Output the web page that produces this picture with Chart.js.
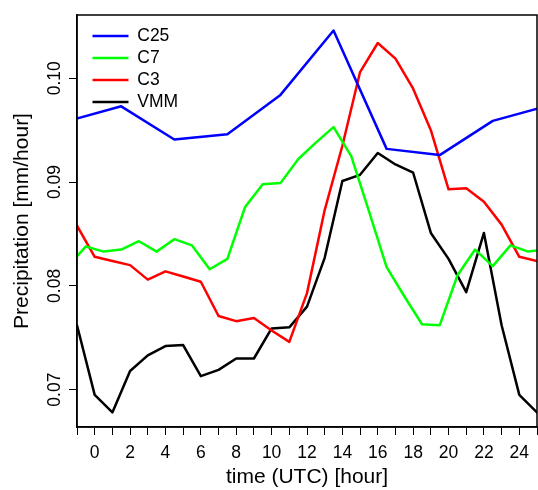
<!DOCTYPE html>
<html>
<head>
<meta charset="utf-8">
<script src="https://cdn.jsdelivr.net/npm/chart.js@4"></script>
<style>
  html, body { margin: 0; padding: 0; background: #fff; }
  canvas { display: block; }
</style>
</head>
<body>
<canvas id="chart" width="538" height="490"></canvas>
<script>
// Mean diurnal cycle of precipitation, by model configuration (hours in UTC).
// C25 is stored every 3 h, C7 hourly at half hours, C3 and VMM hourly on the hour;
// the series run slightly past both ends of the day so the lines reach the frame.
const c25Hours  = [-1.5, 1.5, 4.5, 7.5, 10.5, 13.5, 16.5, 19.5, 22.5, 25.5];
const c25Values = [0.0959, 0.0973, 0.0941, 0.0946, 0.0984, 0.1046, 0.0932, 0.0926, 0.0959, 0.0973];

const c7Hours  = [-1.5, -0.5, 0.5, 1.5, 2.5, 3.5, 4.5, 5.5, 6.5, 7.5, 8.5, 9.5, 10.5, 11.5,
                  12.5, 13.5, 14.5, 15.5, 16.5, 17.5, 18.5, 19.5, 20.5, 21.5, 22.5, 23.5, 24.5, 25.5];
const c7Values = [0.0819, 0.0838, 0.0833, 0.0835, 0.0843, 0.0833, 0.0845, 0.0839, 0.0816, 0.0826,
                  0.0876, 0.0898, 0.0899, 0.0922, 0.0938, 0.0953, 0.0925, 0.0872, 0.0818, 0.0790,
                  0.0763, 0.0762, 0.0810, 0.0835, 0.0819, 0.0839, 0.0833, 0.0835];

const hourlyHours = [-1, 0, 1, 2, 3, 4, 5, 6, 7, 8, 9, 10, 11, 12, 13,
                     14, 15, 16, 17, 18, 19, 20, 21, 22, 23, 24, 25];
const c3Values  = [0.0858, 0.0828, 0.0824, 0.0820, 0.0806, 0.0814, 0.0809, 0.0804, 0.0771, 0.0766,
                   0.0769, 0.0757, 0.0746, 0.0793, 0.0873, 0.0935, 0.1006, 0.1034, 0.1019, 0.0990,
                   0.0950, 0.0893, 0.0894, 0.0881, 0.0859, 0.0828, 0.0824];
const vmmValues = [0.0762, 0.0695, 0.0678, 0.0718, 0.0733, 0.0742, 0.0743, 0.0713, 0.0719, 0.0730,
                   0.0730, 0.0759, 0.0760, 0.0780, 0.0827, 0.0901, 0.0907, 0.0928, 0.0917, 0.0909,
                   0.0851, 0.0826, 0.0794, 0.0851, 0.0762, 0.0695, 0.0678];

const seriesNames  = ['C25', 'C7', 'C3', 'VMM'];
const seriesColors = ['#0000ff', '#00ff00', '#ff0000', '#000000'];

const yTickValues = [0.07, 0.08, 0.09, 0.10];
const xLabelHours = [0, 2, 4, 6, 8, 10, 12, 14, 16, 18, 20, 22, 24];

const FONT = "'Liberation Sans', Arial, Helvetica, sans-serif";
const LINE_WIDTH = 2.5;

const toPoints = (xs, ys) => xs.map((x, i) => ({ x: x, y: ys[i] }));
const seriesData = [
  toPoints(c25Hours, c25Values),
  toPoints(c7Hours, c7Values),
  toPoints(hourlyHours, c3Values),
  toPoints(hourlyHours, vmmValues)
];

// box round the plotting region
const frame = {
  id: 'frame',
  afterDatasetsDraw(chart) {
    const { ctx, chartArea: a } = chart;
    ctx.save();
    ctx.strokeStyle = '#000';
    ctx.lineWidth = 1.5;
    ctx.strokeRect(a.left, a.top, a.right - a.left, a.bottom - a.top);
    ctx.restore();
  }
};

// place the legend a little inside the top-left corner of the plot
const legendInset = {
  id: 'legendInset',
  afterLayout(chart) {
    const lg = chart.legend;
    const a = chart.chartArea;
    const h = lg.bottom - lg.top;
    lg.left = a.left + 11;
    lg.top = a.top + 7.75;
    lg.bottom = lg.top + h;
  }
};

Chart.defaults.color = '#000';
Chart.defaults.font.family = FONT;

new Chart(document.getElementById('chart'), {
  type: 'line',
  data: {
    datasets: seriesNames.map((name, i) => ({
      label: name,
      data: seriesData[i],
      borderColor: seriesColors[i],
      backgroundColor: seriesColors[i],
      borderWidth: LINE_WIDTH,
      pointBorderColor: seriesColors[i],
      pointBorderWidth: LINE_WIDTH,
      clip: 0
    }))
  },
  options: {
    responsive: false,
    animation: false,
    layout: { padding: { top: 15, right: 1, left: 0, bottom: 0 } },
    elements: {
      point: { radius: 0, hoverRadius: 0 },
      line: { tension: 0, borderJoinStyle: 'round', borderCapStyle: 'round' }
    },
    plugins: {
      legend: {
        position: 'chartArea',
        align: 'start',
        labels: {
          usePointStyle: true,
          pointStyle: 'line',
          pointStyleWidth: 36,
          padding: 4.5,
          color: '#000',
          font: { family: FONT, size: 17.5 }
        }
      },
      tooltip: { enabled: false }
    },
    scales: {
      x: {
        type: 'linear',
        min: -1,
        max: 25,
        afterFit(scale) {
          scale.height = 63;
          scale.paddingLeft = 0;
          scale.paddingRight = 0;
        },
        ticks: {
          stepSize: 1,
          autoSkip: false,
          minRotation: 0,
          maxRotation: 0,
          padding: 7.5,
          color: '#000',
          font: { family: FONT, size: 17.5 },
          callback: (v) => xLabelHours.includes(v) ? String(v) : ''
        },
        grid: { drawOnChartArea: false, drawTicks: true, tickLength: 8, color: '#000', tickColor: '#000', tickWidth: 1 },
        border: { display: true, color: '#000', width: 1.5 },
        title: {
          display: true,
          text: 'time (UTC) [hour]',
          color: '#000',
          font: { family: FONT, size: 21 },
          padding: { top: 0, bottom: 0 }
        }
      },
      y: {
        type: 'linear',
        min: 0.0664,
        max: 0.1061,
        afterFit(scale) {
          scale.width = 77;
          scale.paddingTop = 0;
          scale.paddingBottom = 0;
        },
        afterBuildTicks(scale) { scale.ticks = yTickValues.map(v => ({ value: v })); },
        ticks: {
          minRotation: 90,
          maxRotation: 90,
          crossAlign: 'center',
          padding: -3.5,
          color: '#000',
          font: { family: FONT, size: 17.5 },
          callback: (v) => v.toFixed(2)
        },
        grid: { drawOnChartArea: false, drawTicks: true, tickLength: 8, color: '#000', tickColor: '#000', tickWidth: 1 },
        border: { display: true, color: '#000', width: 1.5 },
        title: {
          display: true,
          text: 'Precipitation [mm/hour]',
          color: '#000',
          font: { family: FONT, size: 21 },
          padding: { top: 9.4, bottom: 0 }
        }
      }
    }
  },
  plugins: [frame, legendInset]
});
</script>
</body>
</html>
